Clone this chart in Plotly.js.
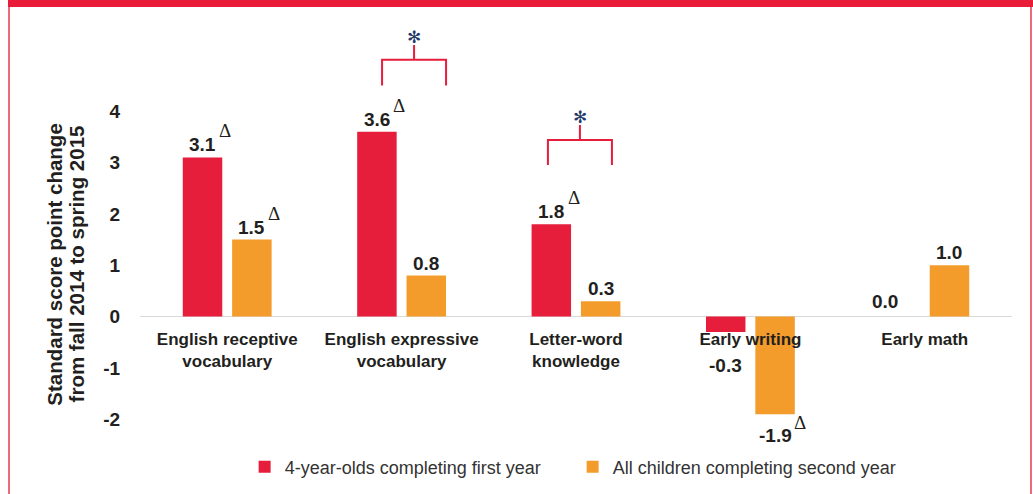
<!DOCTYPE html>
<html><head><meta charset="utf-8">
<script src="https://cdn.plot.ly/plotly-3.0.1.min.js"></script>
<style>
html,body{margin:0;padding:0;background:#fff;}
#wrap{position:relative;width:1033px;height:494px;overflow:hidden;}
#chart{width:1033px;height:494px;}
.frame{position:absolute;pointer-events:none;}
</style></head><body>
<div id="wrap"><div id="chart"></div>
<div class="frame" style="left:8px;top:0;width:1025px;height:7px;background:#e81b39"></div>
<div class="frame" style="left:8px;top:7px;width:2px;height:487px;background:#ec6b7a"></div>
<div class="frame" style="left:1030px;top:7px;width:2px;height:487px;background:#ec6b7a"></div>
</div>
<script>
// ---- data ----
const categories = ["English receptive<br>vocabulary", "English expressive<br>vocabulary", "Letter-word<br>knowledge", "Early writing", "Early math"];
const seriesNames = ["4-year-olds completing first year", "All children completing second year"];
const firstYear = [3.1, 3.6, 1.8, -0.3, 0.0];
const secondYear = [1.5, 0.8, 0.3, -1.9, 1.0];
const firstYearDelta = [true, true, true, false, false];
const secondYearDelta = [true, false, false, true, false];
const significantCategories = [1, 2];
const yTickVals = [-2, -1, 0, 1, 2, 3, 4];
const yTickText = ["-2", "-1", "0", "1", "2", "3", "4"];
const yTitleLines = ["Standard score point change", "from fall 2014 to spring 2015"];

// ---- style ----
const RED = "#e61e3b", ORANGE = "#f49c2b", NAVY = "#1f3a66", TXT = "#231f20";
const FONT = "Liberation Sans, Arial, Helvetica, sans-serif";
const bargap = 0.434, bargroupgap = 0.2;
const shift = (1 - bargap) / 4;
const yRange = [-2.5, 5.6];
// bracket geometry per significant category (offsets relative to category centre, y levels)
const bracketStyle = [
  {dl: -0.112, dr: 0.255, yTop: 5.0, yEnd: 4.5, yStem: 5.29, yStar: 5.44},
  {dl: -0.161, dr: 0.206, yTop: 3.44, yEnd: 2.95, yStem: 3.73, yStar: 3.89}
];
// label nudges (series, category) -> [dx px, dy px]
const labelNudge = {"0-3": [0, -12], "0-4": [-15, 3]};
const yTitleX = [-0.099, -0.073];

const traces = [
  {type: "bar", name: seriesNames[0], x: categories, y: firstYear, marker: {color: RED}, hoverinfo: "none"},
  {type: "bar", name: seriesNames[1], x: categories, y: secondYear, marker: {color: ORANGE}, hoverinfo: "none"}
];

const charW = c => (c === "." ? 0.278 : c === "-" ? 0.333 : 0.556);
const annotations = [];
const shapes = [];
[[firstYear, firstYearDelta], [secondYear, secondYearDelta]].forEach(([vals, deltas], s) => {
  vals.forEach((v, i) => {
    const txt = v.toFixed(1);
    const nudge = labelNudge[s + "-" + i] || [0, 0];
    const x = i + (s === 0 ? -shift : shift);
    const pos = v >= 0;
    const dy = (pos ? 0 : -9) + nudge[1];
    annotations.push({x: x, y: v, xref: "x", yref: "y", text: txt, showarrow: false,
      xanchor: "center", yanchor: pos ? "bottom" : "top", xshift: nudge[0], yshift: dy,
      font: {family: FONT, size: 19, color: TXT, weight: "bold"}});
    if (deltas[i]) {
      const half = txt.split("").reduce((a, c) => a + charW(c), 0) * 19 / 2;
      annotations.push({x: x, y: v, xref: "x", yref: "y", text: "\u0394", showarrow: false,
        xanchor: "left", yanchor: "bottom", xshift: nudge[0] + half + 1,
        yshift: pos ? dy + 14 : -21,
        font: {family: "Liberation Serif, Times New Roman, serif", size: 19, color: TXT}});
    }
  });
});
significantCategories.forEach((c, k) => {
  const b = bracketStyle[k];
  const xl = c + b.dl, xr = c + b.dr, xm = (xl + xr) / 2;
  shapes.push({type: "path", xref: "x", yref: "y",
    path: `M${xl},${b.yEnd} L${xl},${b.yTop} L${xr},${b.yTop} L${xr},${b.yEnd} M${xm},${b.yTop} L${xm},${b.yStem}`,
    line: {color: RED, width: 2}});
  annotations.push({x: xm, y: b.yStar, xref: "x", yref: "y", text: "\u273B", showarrow: false,
    xanchor: "center", yanchor: "middle", font: {family: "DejaVu Sans", size: 17, color: NAVY}});
});
yTitleLines.forEach((t, k) => {
  annotations.push({x: yTitleX[k], y: 0.435, xref: "paper", yref: "paper", text: t, textangle: -90,
    showarrow: false, xanchor: "center", yanchor: "middle",
    font: {family: FONT, size: 20.5, color: TXT, weight: "bold"}});
});

const layout = {
  width: 1033, height: 494,
  margin: {l: 140, r: 21, t: 29, b: 49, autoexpand: false},
  paper_bgcolor: "#fff", plot_bgcolor: "#fff",
  barmode: "group", bargap: bargap, bargroupgap: bargroupgap,
  showlegend: true,
  legend: {orientation: "h", x: 0.12, xanchor: "left", y: -0.053, yanchor: "middle",
    font: {family: FONT, size: 18, color: "#333"}, entrywidth: 283, entrywidthmode: "pixels",
    itemclick: false},
  xaxis: {type: "category", anchor: "free", position: (0 - yRange[0]) / (yRange[1] - yRange[0]),
    showline: false, ticks: "outside", ticklen: 7, tickcolor: "rgba(0,0,0,0)", showgrid: false, zeroline: false,
    tickfont: {family: FONT, size: 17, color: TXT, weight: "bold"}},
  yaxis: {range: yRange, showgrid: false, zeroline: true, zerolinecolor: "#d9d9d9", zerolinewidth: 1,
    showline: false, tickvals: yTickVals, ticktext: yTickText, ticks: "outside", ticklen: 15,
    tickcolor: "rgba(0,0,0,0)", tickfont: {family: FONT, size: 19, color: TXT, weight: "bold"}},
  annotations: annotations,
  shapes: shapes
};
Plotly.newPlot("chart", traces, layout, {staticPlot: true, displayModeBar: false});
</script>
</body></html>
